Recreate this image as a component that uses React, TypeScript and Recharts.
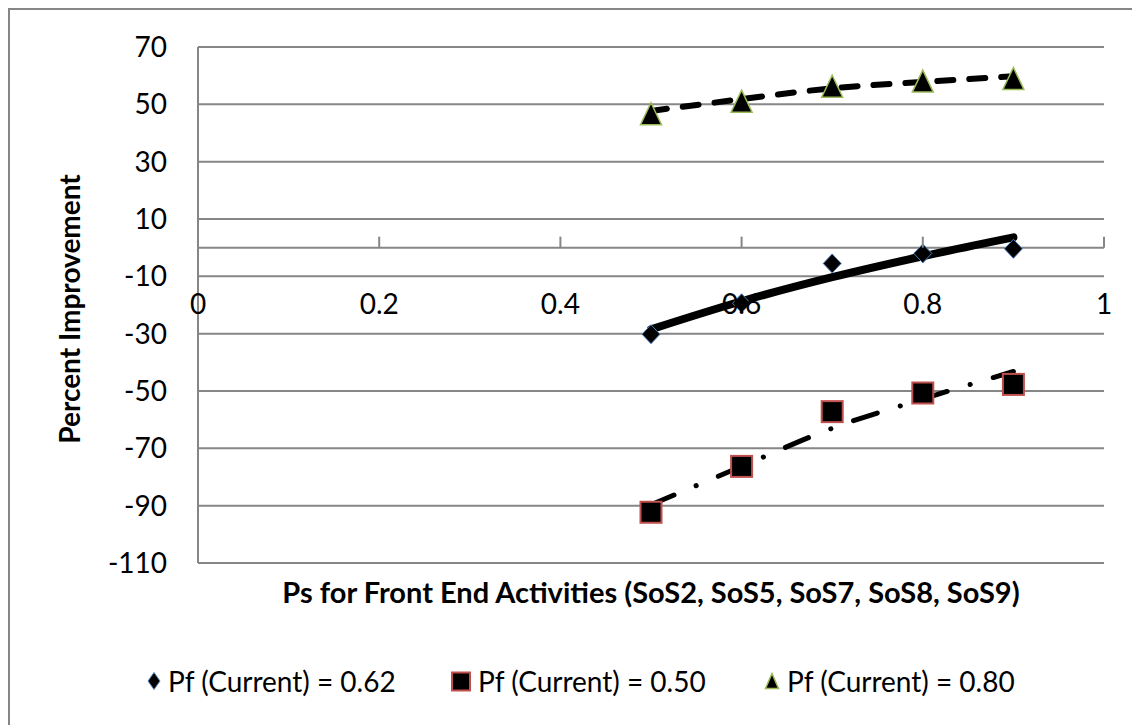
import { ComposedChart, Line, XAxis, YAxis, CartesianGrid, ReferenceLine, Label } from 'recharts'

// Ps values on the x axis
const ps = [0.5, 0.6, 0.7, 0.8, 0.9]

// measured points, one list per Pf (Current)
const pf062 = [-30.2, -19.4, -5.5, -2.0, -0.4]
const pf050 = [-92.3, -76.3, -57.2, -50.7, -47.7]
const pf080 = [46.7, 51.1, 56.3, 58.1, 59.0]

// trendlines
const trend062 = [-28.5, -18.7, -10.3, -3.0, 3.6]
const trend050 = [-89.7, -76.3, -63.0, -52.8, -43.2]
const trend080 = [47.7, 51.8, 55.6, 57.8, 59.8]

const seriesNames = ['Pf (Current) = 0.62', 'Pf (Current) = 0.50', 'Pf (Current) = 0.80']

const xTicks = [0, 0.2, 0.4, 0.6, 0.8, 1]
const yTicks = [-110, -90, -70, -50, -30, -10, 10, 30, 50, 70]
const Y_MIN = -110
const Y_MAX = 70

const rows = ps.map((p, i) => ({
  ps: p,
  pf062: pf062[i],
  pf050: pf050[i],
  pf080: pf080[i],
  trend062: trend062[i],
  trend050: trend050[i],
  trend080: trend080[i],
}))

const W = 1132
const H = 717
const PLOT_TOP = 39
const PLOT_H = 516
const ZERO_Y = PLOT_TOP + (PLOT_H * Y_MAX) / (Y_MAX - Y_MIN)
const GRID = '#868686'
const FONT = 'Lato, "Open Sans", sans-serif'

const Diamond = ({ cx, cy, w = 18, h = 19 }: any) => (
  <path
    d={`M${cx},${cy - h / 2} L${cx + w / 2},${cy} L${cx},${cy + h / 2} L${cx - w / 2},${cy} Z`}
    fill="#000"
    stroke="#4F81BD"
    strokeWidth={1}
  />
)

const Square = ({ cx, cy, s = 21 }: any) => (
  <rect x={cx - s / 2} y={cy - s / 2} width={s} height={s} fill="#000" stroke="#C0504D" strokeWidth={2} />
)

const Triangle = ({ cx, cy, w = 21, h = 22 }: any) => (
  <path
    d={`M${cx},${cy - h / 2} L${cx + w / 2},${cy + h / 2} L${cx - w / 2},${cy + h / 2} Z`}
    fill="#000"
    stroke="#9BBB59"
    strokeWidth={1.5}
  />
)

// x axis crosses at y = 0, so ticks and labels are drawn up there
const XTick = ({ x, payload }: any) => (
  <g>
    <line x1={x} x2={x} y1={ZERO_Y - 11} y2={ZERO_Y} stroke={GRID} strokeWidth={2} />
    <text x={x} y={ZERO_Y + 55} textAnchor="middle" dominantBaseline="central" fontSize={28} fontFamily={FONT} fill="#000">
      {String(payload.value)}
    </text>
  </g>
)

const XTitle = ({ viewBox }: any) => (
  <text
    x={viewBox.x + viewBox.width / 2}
    y={viewBox.y + 28}
    textAnchor="middle"
    dominantBaseline="central"
    fontSize={29}
    fontWeight="bold"
    fontFamily={FONT}
    fill="#000"
  >
    Ps for Front End Activities (SoS2, SoS5, SoS7, SoS8, SoS9)
  </text>
)

const YTitle = ({ viewBox }: any) => {
  const cy = viewBox.y + viewBox.height / 2 + 4
  return (
    <text
      x={61}
      y={cy}
      transform={`rotate(-90, 61, ${cy})`}
      textAnchor="middle"
      dominantBaseline="central"
      fontSize={28}
      fontWeight="bold"
      fontFamily={FONT}
      fill="#000"
    >
      Percent Improvement
    </text>
  )
}

const legendItems = [
  { left: 139, marker: <svg width={14} height={20}><Diamond cx={7} cy={10} w={12} h={17} /></svg> },
  { left: 443, marker: <svg width={20} height={21}><Square cx={10} cy={10.5} s={18} /></svg> },
  { left: 756, marker: <svg width={16} height={18}><Triangle cx={8} cy={9} w={13} h={15} /></svg> },
]

export default function App() {
  return (
    <div style={{ position: 'relative', width: W, height: H }}>
      <ComposedChart width={W} height={H} data={rows} margin={{ top: PLOT_TOP, right: 36, left: 0, bottom: 0 }}>
        <CartesianGrid vertical={false} stroke={GRID} strokeWidth={2} />
        <ReferenceLine y={0} stroke={GRID} strokeWidth={2} />
        <XAxis
          dataKey="ps"
          type="number"
          domain={[0, 1]}
          ticks={xTicks}
          axisLine={false}
          tickLine={false}
          tickSize={0}
          height={H - PLOT_TOP - PLOT_H}
          tick={<XTick />}
        >
          <Label content={<XTitle />} />
        </XAxis>
        <YAxis
          type="number"
          domain={[Y_MIN, Y_MAX]}
          ticks={yTicks}
          width={190}
          axisLine={{ stroke: GRID, strokeWidth: 2 }}
          tickLine={false}
          tickSize={0}
          tickMargin={31}
          tick={{ fontSize: 28, fontFamily: FONT, fill: '#000' }}
        >
          <Label content={<YTitle />} />
        </YAxis>

        <Line dataKey="pf062" stroke="none" dot={<Diamond />} activeDot={false} isAnimationActive={false} />
        <Line dataKey="pf050" stroke="none" dot={<Square />} activeDot={false} isAnimationActive={false} />
        <Line dataKey="pf080" stroke="none" dot={<Triangle />} activeDot={false} isAnimationActive={false} />

        <Line dataKey="trend062" type="monotone" stroke="#000" strokeWidth={8} strokeLinecap="round" dot={false} activeDot={false} isAnimationActive={false} />
        <Line dataKey="trend050" type="monotone" stroke="#000" strokeWidth={5} strokeLinecap="round" strokeDasharray="25 24 0.1 24" dot={false} activeDot={false} isAnimationActive={false} />
        <Line dataKey="trend080" type="monotone" stroke="#000" strokeWidth={6} strokeLinecap="round" strokeDasharray="16 16" dot={false} activeDot={false} isAnimationActive={false} />
      </ComposedChart>

      {legendItems.map((item, i) => (
        <div
          key={seriesNames[i]}
          style={{
            position: 'absolute', left: item.left, top: 653, height: 40,
            display: 'flex', alignItems: 'center', gap: 7,
            fontFamily: FONT, fontSize: 28, color: '#000', whiteSpace: 'nowrap',
          }}
        >
          {item.marker}
          <span>{seriesNames[i]}</span>
        </div>
      ))}

      <div style={{ position: 'absolute', left: 0, top: 0, width: W, height: H, boxSizing: 'border-box', border: `2px solid ${GRID}`, borderBottom: 'none', pointerEvents: 'none' }} />
    </div>
  )
}
